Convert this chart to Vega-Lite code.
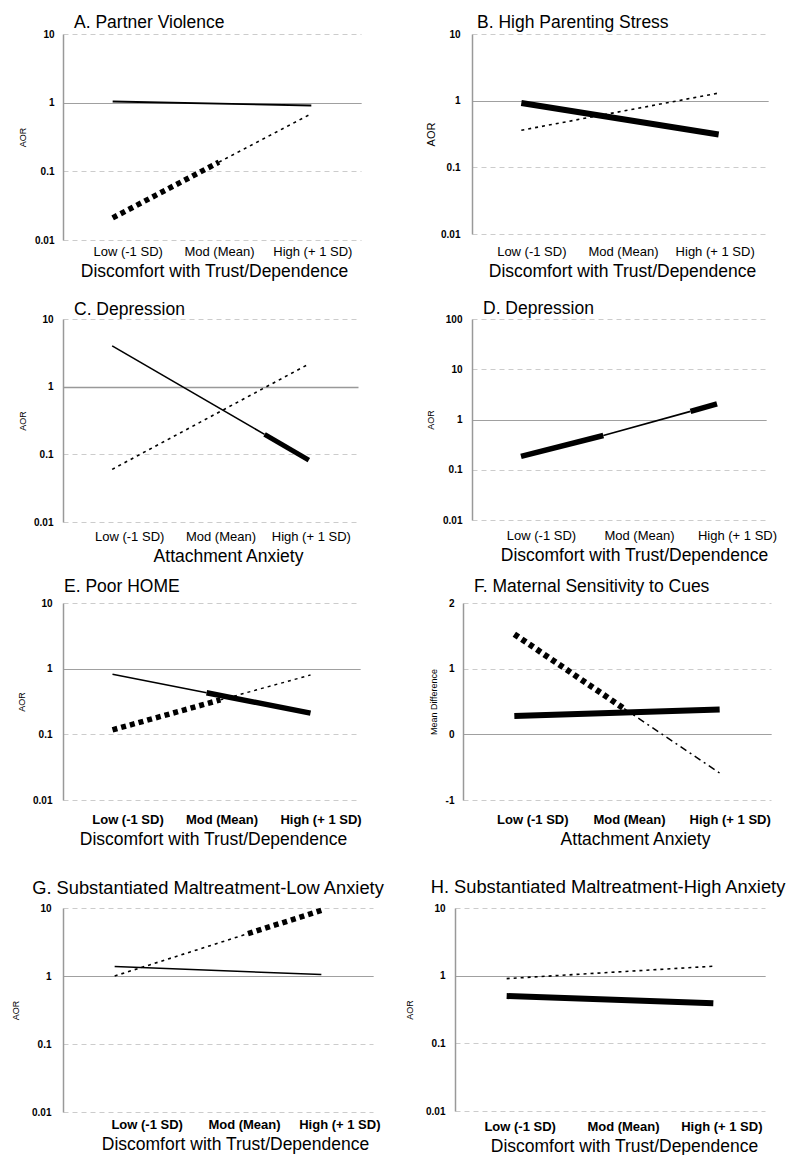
{
  "$schema": "https://vega.github.io/schema/vega-lite/v6.json",
  "background": "white",
  "padding": {"left": 11, "top": 13, "right": 0, "bottom": 0},
  "autosize": {"type": "pad"},
  "datasets": {
    "aor": [
      {"panel": "A", "series": "Series 1", "sig": "no", "seg": 1, "sd": -1, "value": 1.04},
      {"panel": "A", "series": "Series 1", "sig": "no", "seg": 1, "sd": 1, "value": 0.91},
      {"panel": "A", "series": "Series 2", "sig": "yes", "seg": 2, "sd": -1, "value": 0.021},
      {"panel": "A", "series": "Series 2", "sig": "yes", "seg": 2, "sd": 0.07, "value": 0.136},
      {"panel": "A", "series": "Series 2", "sig": "no", "seg": 3, "sd": 0.07, "value": 0.136},
      {"panel": "A", "series": "Series 2", "sig": "no", "seg": 3, "sd": 1, "value": 0.69},
      {"panel": "B", "series": "Series 1", "sig": "yes", "seg": 1, "sd": -1, "value": 0.92},
      {"panel": "B", "series": "Series 1", "sig": "yes", "seg": 1, "sd": 1, "value": 0.31},
      {"panel": "B", "series": "Series 2", "sig": "no", "seg": 2, "sd": -1, "value": 0.36},
      {"panel": "B", "series": "Series 2", "sig": "no", "seg": 2, "sd": 1, "value": 1.3},
      {"panel": "C", "series": "Series 1", "sig": "no", "seg": 1, "sd": -1, "value": 4.0},
      {"panel": "C", "series": "Series 1", "sig": "no", "seg": 1, "sd": 0.55, "value": 0.197},
      {"panel": "C", "series": "Series 1", "sig": "yes", "seg": 2, "sd": 0.55, "value": 0.197},
      {"panel": "C", "series": "Series 1", "sig": "yes", "seg": 2, "sd": 1, "value": 0.082},
      {"panel": "C", "series": "Series 2", "sig": "no", "seg": 3, "sd": -1, "value": 0.06},
      {"panel": "C", "series": "Series 2", "sig": "no", "seg": 3, "sd": 1, "value": 2.16},
      {"panel": "D", "series": "Series 1", "sig": "yes", "seg": 1, "sd": -1, "value": 0.185},
      {"panel": "D", "series": "Series 1", "sig": "yes", "seg": 1, "sd": -0.16, "value": 0.48},
      {"panel": "D", "series": "Series 1", "sig": "no", "seg": 2, "sd": -0.16, "value": 0.48},
      {"panel": "D", "series": "Series 1", "sig": "no", "seg": 2, "sd": 0.73, "value": 1.45},
      {"panel": "D", "series": "Series 1", "sig": "yes", "seg": 3, "sd": 0.73, "value": 1.45},
      {"panel": "D", "series": "Series 1", "sig": "yes", "seg": 3, "sd": 1, "value": 2.05},
      {"panel": "E", "series": "Series 1", "sig": "no", "seg": 1, "sd": -1, "value": 0.82},
      {"panel": "E", "series": "Series 1", "sig": "no", "seg": 1, "sd": -0.05, "value": 0.43},
      {"panel": "E", "series": "Series 1", "sig": "yes", "seg": 2, "sd": -0.05, "value": 0.43},
      {"panel": "E", "series": "Series 1", "sig": "yes", "seg": 2, "sd": 1, "value": 0.21},
      {"panel": "E", "series": "Series 2", "sig": "yes", "seg": 3, "sd": -1, "value": 0.117},
      {"panel": "E", "series": "Series 2", "sig": "yes", "seg": 3, "sd": 0.09, "value": 0.335},
      {"panel": "E", "series": "Series 2", "sig": "no", "seg": 4, "sd": 0.09, "value": 0.335},
      {"panel": "E", "series": "Series 2", "sig": "no", "seg": 4, "sd": 1, "value": 0.8},
      {"panel": "F", "series": "Series 1", "sig": "yes", "seg": 1, "sd": -1, "value": 0.28},
      {"panel": "F", "series": "Series 1", "sig": "yes", "seg": 1, "sd": 1, "value": 0.38},
      {"panel": "F", "series": "Series 2", "sig": "yes", "seg": 2, "sd": -1, "value": 1.525},
      {"panel": "F", "series": "Series 2", "sig": "yes", "seg": 2, "sd": 0.07, "value": 0.39},
      {"panel": "F", "series": "Series 2", "sig": "no", "seg": 3, "sd": 0.07, "value": 0.39},
      {"panel": "F", "series": "Series 2", "sig": "no", "seg": 3, "sd": 1, "value": -0.59},
      {"panel": "G", "series": "Series 1", "sig": "no", "seg": 1, "sd": -1, "value": 1.38},
      {"panel": "G", "series": "Series 1", "sig": "no", "seg": 1, "sd": 1, "value": 1.05},
      {"panel": "G", "series": "Series 2", "sig": "no", "seg": 2, "sd": -1, "value": 1.0},
      {"panel": "G", "series": "Series 2", "sig": "no", "seg": 2, "sd": 0.29, "value": 4.2},
      {"panel": "G", "series": "Series 2", "sig": "yes", "seg": 3, "sd": 0.29, "value": 4.2},
      {"panel": "G", "series": "Series 2", "sig": "yes", "seg": 3, "sd": 1, "value": 9.2},
      {"panel": "H", "series": "Series 1", "sig": "yes", "seg": 1, "sd": -1, "value": 0.5},
      {"panel": "H", "series": "Series 1", "sig": "yes", "seg": 1, "sd": 1, "value": 0.39},
      {"panel": "H", "series": "Series 2", "sig": "no", "seg": 2, "sd": -1, "value": 0.905},
      {"panel": "H", "series": "Series 2", "sig": "no", "seg": 2, "sd": 1, "value": 1.38}
    ]
  },
  "spacing": 29,
  "vconcat": [
    {
      "spacing": 12,
      "vconcat": [
        {
          "spacing": 19,
          "vconcat": [
            {
              "spacing": 64,
              "hconcat": [
                {
                  "title": {"text": "A. Partner Violence", "anchor": "start", "frame": "group", "dx": 11, "offset": -2},
                  "width": 298, "height": 206,
                  "data": {"name": "aor"},
                  "transform": [{"filter": "datum.panel == 'A'"}],
                  "encoding": {
                    "x": {"field": "sd", "type": "quantitative", "scale": {"domain": [-1.5, 1.5]},
                      "axis": {"values": [-1, 0, 1], "labelExpr": "datum.value < -0.5 ? 'Low (-1 SD)' : datum.value < 0.5 ? 'Mod (Mean)' : 'High (+ 1 SD)'", "title": "Discomfort with Trust/Dependence", "labelPadding": 5, "titleX": 151,
                        "labelOffset": {"condition": [{"test": "datum.value == -1", "value": 15}, {"test": "datum.value == 0", "value": 7}], "value": 1}}},
                    "y": {"field": "value", "type": "quantitative", "scale": {"type": "log", "domain": [0.01, 10], "nice": false},
                      "axis": {"values": [0.01, 0.1, 1, 10], "labelExpr": "'' + datum.value", "title": "AOR", "labelPadding": 9, "titlePadding": 7, "titleFontSize": 9,
                        "gridColor": {"condition": {"test": "datum.value == 1", "value": "#808080"}, "value": "#cccccc"},
                        "gridDash": {"condition": {"test": "datum.value == 1", "value": [1, 0]}, "value": [5, 4]}}},
                    "detail": {"field": "seg", "type": "nominal"}
                  },
                  "layer": [
                    {"transform": [{"filter": "datum.series == 'Series 1' && datum.sig == 'no'"}], "mark": {"type": "line", "color": "black", "strokeWidth": 1.8}},
                    {"transform": [{"filter": "datum.series == 'Series 2' && datum.sig == 'no'"}], "mark": {"type": "line", "color": "black", "strokeWidth": 1.6, "strokeDash": [3, 4]}},
                    {"transform": [{"filter": "datum.series == 'Series 1' && datum.sig == 'yes'"}], "mark": {"type": "line", "color": "black", "strokeWidth": 6}},
                    {"transform": [{"filter": "datum.series == 'Series 2' && datum.sig == 'yes'"}], "mark": {"type": "line", "color": "black", "strokeWidth": 5.5, "strokeDash": [5, 4]}}
                  ]
                },
                {
                  "title": {"text": "B. High Parenting Stress", "anchor": "start", "frame": "group", "dx": 5, "offset": -2},
                  "width": 296, "height": 200,
                  "data": {"name": "aor"},
                  "transform": [{"filter": "datum.panel == 'B'"}],
                  "encoding": {
                    "x": {"field": "sd", "type": "quantitative", "scale": {"domain": [-1.5, 1.5]},
                      "axis": {"values": [-1, 0, 1], "labelExpr": "datum.value < -0.5 ? 'Low (-1 SD)' : datum.value < 0.5 ? 'Mod (Mean)' : 'High (+ 1 SD)'", "title": "Discomfort with Trust/Dependence", "labelPadding": 11, "titleX": 150,
                        "labelOffset": {"condition": [{"test": "datum.value == -1", "value": 10}, {"test": "datum.value == 0", "value": 3}], "value": -4}}},
                    "y": {"field": "value", "type": "quantitative", "scale": {"type": "log", "domain": [0.01, 10], "nice": false},
                      "axis": {"values": [0.01, 0.1, 1, 10], "labelExpr": "'' + datum.value", "title": "AOR", "labelPadding": 12, "titlePadding": 4, "titleFontSize": 11,
                        "gridColor": {"condition": {"test": "datum.value == 1", "value": "#808080"}, "value": "#cccccc"},
                        "gridDash": {"condition": {"test": "datum.value == 1", "value": [1, 0]}, "value": [5, 4]}}},
                    "detail": {"field": "seg", "type": "nominal"}
                  },
                  "layer": [
                    {"transform": [{"filter": "datum.series == 'Series 1' && datum.sig == 'no'"}], "mark": {"type": "line", "color": "black", "strokeWidth": 1.8}},
                    {"transform": [{"filter": "datum.series == 'Series 2' && datum.sig == 'no'"}], "mark": {"type": "line", "color": "black", "strokeWidth": 1.6, "strokeDash": [3, 4]}},
                    {"transform": [{"filter": "datum.series == 'Series 1' && datum.sig == 'yes'"}], "mark": {"type": "line", "color": "black", "strokeWidth": 6}},
                    {"transform": [{"filter": "datum.series == 'Series 2' && datum.sig == 'yes'"}], "mark": {"type": "line", "color": "black", "strokeWidth": 5, "strokeDash": [5, 4]}}
                  ]
                }
              ]
            },
            {
              "spacing": 68,
              "hconcat": [
                {
                  "title": {"text": "C. Depression", "anchor": "start", "frame": "group", "dx": 11, "offset": -4},
                  "width": 295, "height": 203,
                  "data": {"name": "aor"},
                  "transform": [{"filter": "datum.panel == 'C'"}],
                  "encoding": {
                    "x": {"field": "sd", "type": "quantitative", "scale": {"domain": [-1.5, 1.5]},
                      "axis": {"values": [-1, 0, 1], "labelExpr": "datum.value < -0.5 ? 'Low (-1 SD)' : datum.value < 0.5 ? 'Mod (Mean)' : 'High (+ 1 SD)'", "title": "Attachment Anxiety", "labelPadding": 8, "titleX": 165,
                        "labelOffset": {"condition": [{"test": "datum.value == -1", "value": 17}, {"test": "datum.value == 0", "value": 10}], "value": 2}}},
                    "y": {"field": "value", "type": "quantitative", "scale": {"type": "log", "domain": [0.01, 10], "nice": false},
                      "axis": {"values": [0.01, 0.1, 1, 10], "labelExpr": "'' + datum.value", "title": "AOR", "labelPadding": 10, "titlePadding": 6, "titleFontSize": 9,
                        "gridColor": {"condition": {"test": "datum.value == 1", "value": "#999999"}, "value": "#cccccc"},
                        "gridWidth": {"condition": {"test": "datum.value == 1", "value": 1.5}, "value": 1},
                        "gridDash": {"condition": {"test": "datum.value == 1", "value": [1, 0]}, "value": [5, 4]}}},
                    "detail": {"field": "seg", "type": "nominal"}
                  },
                  "layer": [
                    {"transform": [{"filter": "datum.series == 'Series 1' && datum.sig == 'no'"}], "mark": {"type": "line", "color": "black", "strokeWidth": 1.6}},
                    {"transform": [{"filter": "datum.series == 'Series 2' && datum.sig == 'no'"}], "mark": {"type": "line", "color": "black", "strokeWidth": 1.6, "strokeDash": [3, 4]}},
                    {"transform": [{"filter": "datum.series == 'Series 1' && datum.sig == 'yes'"}], "mark": {"type": "line", "color": "black", "strokeWidth": 5}},
                    {"transform": [{"filter": "datum.series == 'Series 2' && datum.sig == 'yes'"}], "mark": {"type": "line", "color": "black", "strokeWidth": 5, "strokeDash": [5, 4]}}
                  ]
                },
                {
                  "title": {"text": "D. Depression", "anchor": "start", "frame": "group", "dx": 11, "offset": -3},
                  "width": 294, "height": 201,
                  "data": {"name": "aor"},
                  "transform": [{"filter": "datum.panel == 'D'"}],
                  "encoding": {
                    "x": {"field": "sd", "type": "quantitative", "scale": {"domain": [-1.5, 1.5]},
                      "axis": {"values": [-1, 0, 1], "labelExpr": "datum.value < -0.5 ? 'Low (-1 SD)' : datum.value < 0.5 ? 'Mod (Mean)' : 'High (+ 1 SD)'", "title": "Discomfort with Trust/Dependence", "labelPadding": 9, "titleX": 162, "labelOffset": 20}},
                    "y": {"field": "value", "type": "quantitative", "scale": {"type": "log", "domain": [0.01, 100], "nice": false},
                      "axis": {"values": [0.01, 0.1, 1, 10, 100], "labelExpr": "'' + datum.value", "title": "AOR", "labelPadding": 10, "titlePadding": 7, "titleFontSize": 9,
                        "gridColor": {"condition": {"test": "datum.value == 1", "value": "#808080"}, "value": "#cccccc"},
                        "gridDash": {"condition": {"test": "datum.value == 1", "value": [1, 0]}, "value": [5, 4]}}},
                    "detail": {"field": "seg", "type": "nominal"}
                  },
                  "layer": [
                    {"transform": [{"filter": "datum.series == 'Series 1' && datum.sig == 'no'"}], "mark": {"type": "line", "color": "black", "strokeWidth": 1.6}},
                    {"transform": [{"filter": "datum.series == 'Series 2' && datum.sig == 'no'"}], "mark": {"type": "line", "color": "black", "strokeWidth": 1.6, "strokeDash": [3, 4]}},
                    {"transform": [{"filter": "datum.series == 'Series 1' && datum.sig == 'yes'"}], "mark": {"type": "line", "color": "black", "strokeWidth": 5.5}},
                    {"transform": [{"filter": "datum.series == 'Series 2' && datum.sig == 'yes'"}], "mark": {"type": "line", "color": "black", "strokeWidth": 5, "strokeDash": [5, 4]}}
                  ]
                }
              ]
            }
          ]
        },
        {
          "spacing": 67,
          "hconcat": [
            {
              "title": {"text": "E. Poor HOME", "anchor": "start", "frame": "group", "dx": 1, "offset": 3},
              "width": 297, "height": 197,
              "data": {"name": "aor"},
              "transform": [{"filter": "datum.panel == 'E'"}],
              "encoding": {
                "x": {"field": "sd", "type": "quantitative", "scale": {"domain": [-1.5, 1.5]},
                  "axis": {"values": [-1, 0, 1], "labelExpr": "datum.value < -0.5 ? 'Low (-1 SD)' : datum.value < 0.5 ? 'Mod (Mean)' : 'High (+ 1 SD)'", "title": "Discomfort with Trust/Dependence", "labelPadding": 13, "titleX": 150, "labelFontWeight": "bold",
                    "labelOffset": {"condition": {"test": "datum.value == -1", "value": 15}, "value": 10}}},
                "y": {"field": "value", "type": "quantitative", "scale": {"type": "log", "domain": [0.01, 10], "nice": false},
                  "axis": {"values": [0.01, 0.1, 1, 10], "labelExpr": "'' + datum.value", "title": "AOR", "labelPadding": 11, "titlePadding": 6, "titleFontSize": 9,
                    "gridColor": {"condition": {"test": "datum.value == 1", "value": "#808080"}, "value": "#cccccc"},
                    "gridDash": {"condition": {"test": "datum.value == 1", "value": [1, 0]}, "value": [5, 4]}}},
                "detail": {"field": "seg", "type": "nominal"}
              },
              "layer": [
                {"transform": [{"filter": "datum.series == 'Series 1' && datum.sig == 'no'"}], "mark": {"type": "line", "color": "black", "strokeWidth": 1.6}},
                {"transform": [{"filter": "datum.series == 'Series 2' && datum.sig == 'no'"}], "mark": {"type": "line", "color": "black", "strokeWidth": 1.4, "strokeDash": [3, 4]}},
                {"transform": [{"filter": "datum.series == 'Series 1' && datum.sig == 'yes'"}], "mark": {"type": "line", "color": "black", "strokeWidth": 5.5}},
                {"transform": [{"filter": "datum.series == 'Series 2' && datum.sig == 'yes'"}], "mark": {"type": "line", "color": "black", "strokeWidth": 5.5, "strokeDash": [5, 4]}}
              ]
            },
            {
              "title": {"text": "F. Maternal Sensitivity to Cues", "anchor": "start", "frame": "group", "dx": 11, "offset": 3},
              "width": 308, "height": 197,
              "data": {"name": "aor"},
              "transform": [{"filter": "datum.panel == 'F'"}],
              "encoding": {
                "x": {"field": "sd", "type": "quantitative", "scale": {"domain": [-1.5, 1.5]},
                  "axis": {"values": [-1, 0, 1], "labelExpr": "datum.value < -0.5 ? 'Low (-1 SD)' : datum.value < 0.5 ? 'Mod (Mean)' : 'High (+ 1 SD)'", "title": "Attachment Anxiety", "labelPadding": 13, "titleX": 172, "labelFontWeight": "bold",
                    "labelOffset": {"condition": [{"test": "datum.value == -1", "value": 18}, {"test": "datum.value == 0", "value": 12}], "value": 10}}},
                "y": {"field": "value", "type": "quantitative", "scale": {"domain": [-1, 2], "nice": false, "zero": false},
                  "axis": {"values": [-1, 0, 1, 2], "labelExpr": "'' + datum.value", "title": "Mean Difference", "labelPadding": 9, "titlePadding": 7, "titleFontSize": 9,
                    "gridColor": {"condition": {"test": "datum.value == 0", "value": "#808080"}, "value": "#cccccc"},
                    "gridDash": {"condition": {"test": "datum.value == 0", "value": [1, 0]}, "value": [5, 4]}}},
                "detail": {"field": "seg", "type": "nominal"}
              },
              "layer": [
                {"transform": [{"filter": "datum.series == 'Series 1' && datum.sig == 'no'"}], "mark": {"type": "line", "color": "black", "strokeWidth": 1.6}},
                {"transform": [{"filter": "datum.series == 'Series 2' && datum.sig == 'no'"}], "mark": {"type": "line", "color": "black", "strokeWidth": 1.5, "strokeDash": [7, 4, 2, 4]}},
                {"transform": [{"filter": "datum.series == 'Series 1' && datum.sig == 'yes'"}], "mark": {"type": "line", "color": "black", "strokeWidth": 6}},
                {"transform": [{"filter": "datum.series == 'Series 2' && datum.sig == 'yes'"}], "mark": {"type": "line", "color": "black", "strokeWidth": 6, "strokeDash": [5, 4]}}
              ]
            }
          ]
        }
      ]
    },
    {
      "spacing": 20,
      "hconcat": [
        {
          "title": {"text": "G. Substantiated Maltreatment-Low Anxiety", "anchor": "middle", "frame": "group", "dx": -10, "offset": 1, "fontSize": 18.3},
          "width": 310, "height": 204,
          "data": {"name": "aor"},
          "transform": [{"filter": "datum.panel == 'G'"}],
          "encoding": {
            "x": {"field": "sd", "type": "quantitative", "scale": {"domain": [-1.5, 1.5]},
              "axis": {"values": [-1, 0, 1], "labelExpr": "datum.value < -0.5 ? 'Low (-1 SD)' : datum.value < 0.5 ? 'Mod (Mean)' : 'High (+ 1 SD)'", "title": "Discomfort with Trust/Dependence", "labelPadding": 6, "titleX": 172, "labelFontWeight": "bold",
                "labelOffset": {"condition": [{"test": "datum.value == -1", "value": 32}, {"test": "datum.value == 0", "value": 26}], "value": 18}}},
            "y": {"field": "value", "type": "quantitative", "scale": {"type": "log", "domain": [0.01, 10], "nice": false},
              "axis": {"values": [0.01, 0.1, 1, 10], "labelExpr": "'' + datum.value", "title": "AOR", "labelPadding": 12, "titlePadding": 11, "titleFontSize": 9,
                "gridColor": {"condition": {"test": "datum.value == 1", "value": "#808080"}, "value": "#cccccc"},
                "gridDash": {"condition": {"test": "datum.value == 1", "value": [1, 0]}, "value": [5, 4]}}},
            "detail": {"field": "seg", "type": "nominal"}
          },
          "layer": [
            {"transform": [{"filter": "datum.series == 'Series 1' && datum.sig == 'no'"}], "mark": {"type": "line", "color": "black", "strokeWidth": 1.6}},
            {"transform": [{"filter": "datum.series == 'Series 2' && datum.sig == 'no'"}], "mark": {"type": "line", "color": "black", "strokeWidth": 1.6, "strokeDash": [3, 4]}},
            {"transform": [{"filter": "datum.series == 'Series 1' && datum.sig == 'yes'"}], "mark": {"type": "line", "color": "black", "strokeWidth": 6}},
            {"transform": [{"filter": "datum.series == 'Series 2' && datum.sig == 'yes'"}], "mark": {"type": "line", "color": "black", "strokeWidth": 5.5, "strokeDash": [5, 4]}}
          ]
        },
        {
          "title": {"text": "H. Substantiated Maltreatment-High Anxiety", "anchor": "middle", "frame": "group", "dx": -2, "offset": 6, "fontSize": 18.3},
          "width": 310, "height": 203,
          "data": {"name": "aor"},
          "transform": [{"filter": "datum.panel == 'H'"}],
          "encoding": {
            "x": {"field": "sd", "type": "quantitative", "scale": {"domain": [-1.5, 1.5]},
              "axis": {"values": [-1, 0, 1], "labelExpr": "datum.value < -0.5 ? 'Low (-1 SD)' : datum.value < 0.5 ? 'Mod (Mean)' : 'High (+ 1 SD)'", "title": "Discomfort with Trust/Dependence", "labelPadding": 9, "titleX": 169, "labelFontWeight": "bold",
                "labelOffset": {"condition": {"test": "datum.value == 1", "value": 8}, "value": 13}}},
            "y": {"field": "value", "type": "quantitative", "scale": {"type": "log", "domain": [0.01, 10], "nice": false},
              "axis": {"values": [0.01, 0.1, 1, 10], "labelExpr": "'' + datum.value", "title": "AOR", "labelPadding": 10, "titlePadding": 11, "titleFontSize": 9,
                "gridColor": {"condition": {"test": "datum.value == 1", "value": "#808080"}, "value": "#cccccc"},
                "gridDash": {"condition": {"test": "datum.value == 1", "value": [1, 0]}, "value": [5, 4]}}},
            "detail": {"field": "seg", "type": "nominal"}
          },
          "layer": [
            {"transform": [{"filter": "datum.series == 'Series 1' && datum.sig == 'no'"}], "mark": {"type": "line", "color": "black", "strokeWidth": 1.6}},
            {"transform": [{"filter": "datum.series == 'Series 2' && datum.sig == 'no'"}], "mark": {"type": "line", "color": "black", "strokeWidth": 1.6, "strokeDash": [3, 4]}},
            {"transform": [{"filter": "datum.series == 'Series 1' && datum.sig == 'yes'"}], "mark": {"type": "line", "color": "black", "strokeWidth": 6}},
            {"transform": [{"filter": "datum.series == 'Series 2' && datum.sig == 'yes'"}], "mark": {"type": "line", "color": "black", "strokeWidth": 5, "strokeDash": [5, 4]}}
          ]
        }
      ]
    }
  ],
  "config": {
    "font": "Liberation Sans",
    "view": {"stroke": null},
    "title": {"fontSize": 17.5, "fontWeight": "normal", "font": "Liberation Sans", "color": "black", "baseline": "alphabetic"},
    "axis": {"labelFont": "Liberation Sans", "titleFont": "Liberation Sans", "labelColor": "black", "titleColor": "black"},
    "axisX": {"domain": false, "ticks": false, "grid": false, "labelFontSize": 13, "labelFontWeight": "normal", "titleFontSize": 17.5, "titleFontWeight": "normal", "titlePadding": 4, "labelOverlap": false, "labelFlush": false},
    "axisY": {"ticks": false, "domain": true, "domainColor": "#999999", "domainWidth": 1.5, "grid": true, "labelFontSize": 10, "labelFontWeight": "bold", "titleFontWeight": "normal"}
  }
}
